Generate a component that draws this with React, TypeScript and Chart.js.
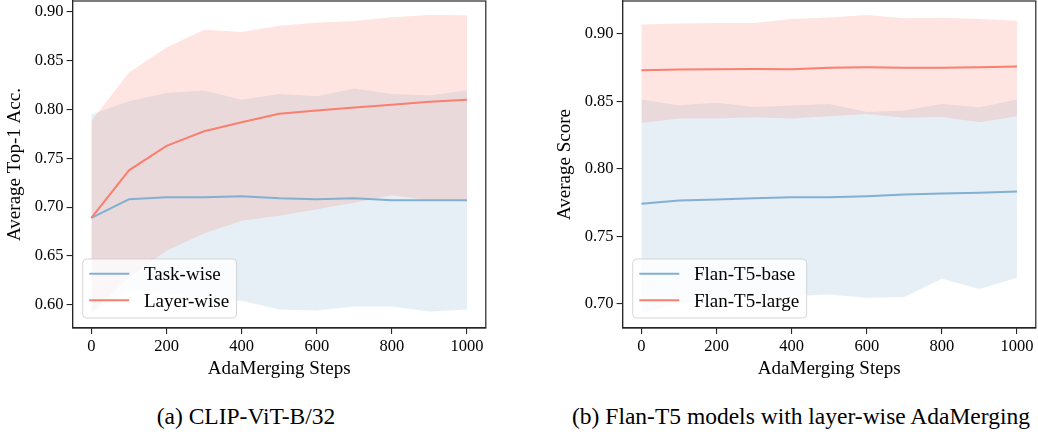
import React, { useEffect, useRef } from 'react';
import { Chart, registerables } from 'chart.js';
Chart.register(...registerables);

const FONT = "'Liberation Serif', 'Times New Roman', serif";
const BLUE = '#82B0D2';
const RED = '#FA7F6F';
const BLUE_FILL = 'rgba(130,176,210,0.2)';
const RED_FILL = 'rgba(250,127,111,0.2)';

// shared x values (AdaMerging steps)
const steps = [0, 100, 200, 300, 400, 500, 600, 700, 800, 900, 1000];
const xTicks = [0, 200, 400, 600, 800, 1000];

// (a) CLIP-ViT-B/32
const taskMean = [0.689, 0.708, 0.710, 0.710, 0.711, 0.709, 0.708, 0.709, 0.707, 0.707, 0.707];
const taskUpper = [0.795, 0.8085, 0.817, 0.8195, 0.810, 0.816, 0.8137, 0.8216, 0.816, 0.8144, 0.8198];
const taskLower = [0.590, 0.617, 0.611, 0.607, 0.604, 0.595, 0.594, 0.598, 0.598, 0.593, 0.595];
const layerMean = [0.689, 0.7377, 0.7627, 0.7777, 0.787, 0.7956, 0.799, 0.802, 0.805, 0.808, 0.810];
const layerUpper = [0.788, 0.838, 0.8637, 0.8818, 0.8794, 0.8859, 0.889, 0.8908, 0.8947, 0.897, 0.8966];
const layerLower = [0.592, 0.628, 0.6553, 0.673, 0.686, 0.691, 0.6977, 0.7044, 0.712, 0.707, 0.706];
const leftYTicks = [0.60, 0.65, 0.70, 0.75, 0.80, 0.85, 0.90];

// (b) Flan-T5 models with layer-wise AdaMerging
const baseMean = [0.7741, 0.7765, 0.7773, 0.7782, 0.779, 0.779, 0.7797, 0.781, 0.7817, 0.7822, 0.7832];
const baseUpper = [0.8513, 0.8471, 0.8489, 0.8459, 0.847, 0.8481, 0.8422, 0.8432, 0.8481, 0.8456, 0.8513];
const baseLower = [0.693, 0.700, 0.703, 0.705, 0.7057, 0.7069, 0.7044, 0.705, 0.7185, 0.711, 0.7193];
const largeMean = [0.8731, 0.8736, 0.8738, 0.874, 0.8738, 0.875, 0.8753, 0.875, 0.875, 0.8753, 0.8758];
const largeUpper = [0.9069, 0.9077, 0.908, 0.908, 0.911, 0.9122, 0.914, 0.9116, 0.9119, 0.911, 0.9098];
const largeLower = [0.834, 0.8373, 0.8373, 0.8382, 0.8373, 0.839, 0.8407, 0.8378, 0.8385, 0.8346, 0.839];
const rightYTicks = [0.70, 0.75, 0.80, 0.85, 0.90];

const pts = (ys: number[]) => steps.map((x, i) => ({ x, y: ys[i] }));

type Series = { label: string; mean: number[]; upper: number[]; lower: number[]; color: string; fill: string };

function buildDatasets(series: Series[]) {
  const ds: any[] = [];
  const n = series.length;
  series.forEach((s, k) => {
    // bands below all lines; later series above earlier ones
    const bandOrder = 100 + (n - k) * 2;
    ds.push({ data: pts(s.lower), borderWidth: 0, pointRadius: 0, fill: false, order: bandOrder + 1 });
    ds.push({ data: pts(s.upper), borderWidth: 0, pointRadius: 0, fill: '-1', backgroundColor: s.fill, order: bandOrder });
    ds.push({ label: s.label, data: pts(s.mean), borderColor: s.color, borderWidth: 2, pointRadius: 0, fill: false, order: n - k, tension: 0 });
  });
  return ds;
}

function makeConfig(series: Series[], yMin: number, yMax: number, yTicks: number[], yTitle: string): any {
  const legendPlugin = {
    id: 'boxLegend',
    afterDraw(chart: any) {
      const { ctx, chartArea } = chart;
      ctx.save();
      // spines
      ctx.strokeStyle = '#262626';
      ctx.lineWidth = 1.2;
      ctx.strokeRect(chartArea.left, chartArea.top, chartArea.right - chartArea.left, chartArea.bottom - chartArea.top);
      // legend
      ctx.font = `19px ${FONT}`;
      const maxW = Math.max(...series.map((s) => ctx.measureText(s.label).width));
      const w = 61.3 + maxW + 7.5;
      const h = 59;
      const left = chartArea.left + 10.1;
      const top = chartArea.bottom - 10 - h;
      ctx.beginPath();
      ctx.roundRect(left, top, w, h, 4);
      ctx.fillStyle = 'rgba(255,255,255,0.8)';
      ctx.fill();
      ctx.strokeStyle = 'rgba(204,204,204,0.8)';
      ctx.lineWidth = 1;
      ctx.stroke();
      const rows = [14.8, 41.2];
      series.forEach((s, i) => {
        const y = top + rows[i];
        ctx.beginPath();
        ctx.moveTo(left + 6.6, y);
        ctx.lineTo(left + 46.6, y);
        ctx.strokeStyle = s.color;
        ctx.lineWidth = 2;
        ctx.stroke();
        ctx.fillStyle = '#000';
        ctx.textBaseline = 'alphabetic';
        ctx.textAlign = 'left';
        ctx.fillText(s.label, left + 61.3, y + 6.5);
      });
      ctx.restore();
    },
  };
  return {
    type: 'line',
    data: { datasets: buildDatasets(series) },
    options: {
      responsive: false,
      animation: false,
      devicePixelRatio: 1,
      layout: { padding: { left: 0, right: 14.2, top: 1, bottom: 0 } },
      plugins: {
        legend: { display: false },
        tooltip: { enabled: false },
        filler: { drawTime: 'beforeDatasetDraw' },
      },
      elements: { line: { tension: 0 } },
      scales: {
        x: {
          type: 'linear',
          min: -50,
          max: 1050,
          afterBuildTicks: (s: any) => {
            s.ticks = xTicks.map((v) => ({ value: v }));
          },
          afterFit: (s: any) => {
            s.height = 62;
            s.paddingLeft = 0;
            s.paddingRight = 0;
          },
          ticks: {
            autoSkip: false,
            maxRotation: 0,
            padding: 3,
            color: '#000',
            font: { family: FONT, size: 16.5 },
            callback: (v: any) => String(v),
          },
          grid: { drawOnChartArea: false, drawTicks: true, tickLength: 6, color: '#262626', lineWidth: 1.1 },
          border: { display: true, color: '#262626', width: 1.2 },
          title: {
            display: true,
            text: 'AdaMerging Steps',
            color: '#000',
            font: { family: FONT, size: 19 },
            padding: { top: 0, bottom: 10 },
          },
        },
        y: {
          type: 'linear',
          min: yMin,
          max: yMax,
          afterBuildTicks: (s: any) => {
            s.ticks = yTicks.map((v) => ({ value: v }));
          },
          afterFit: (s: any) => {
            s.width = 72.6;
            s.paddingTop = 0;
            s.paddingBottom = 0;
          },
          ticks: {
            padding: 3,
            color: '#000',
            font: { family: FONT, size: 16.5 },
            callback: (v: any) => Number(v).toFixed(2),
          },
          grid: { drawOnChartArea: false, drawTicks: true, tickLength: 6, color: '#262626', lineWidth: 1.1 },
          border: { display: true, color: '#262626', width: 1.2 },
          title: {
            display: true,
            text: yTitle,
            color: '#000',
            font: { family: FONT, size: 19 },
            padding: { top: 4, bottom: 0 },
          },
        },
      },
    },
    plugins: [legendPlugin],
  };
}

function ChartCanvas({ config, left }: { config: () => any; left: number }) {
  const ref = useRef<HTMLCanvasElement | null>(null);
  useEffect(() => {
    if (!ref.current) return;
    const chart = new Chart(ref.current, config());
    return () => chart.destroy();
  }, []);
  return (
    <canvas
      ref={ref}
      width={500}
      height={390}
      style={{ position: 'absolute', left, top: 0, width: 500, height: 390 }}
    />
  );
}

const leftSeries: Series[] = [
  { label: 'Task-wise', mean: taskMean, upper: taskUpper, lower: taskLower, color: BLUE, fill: BLUE_FILL },
  { label: 'Layer-wise', mean: layerMean, upper: layerUpper, lower: layerLower, color: RED, fill: RED_FILL },
];
const rightSeries: Series[] = [
  { label: 'Flan-T5-base', mean: baseMean, upper: baseUpper, lower: baseLower, color: BLUE, fill: BLUE_FILL },
  { label: 'Flan-T5-large', mean: largeMean, upper: largeUpper, lower: largeLower, color: RED, fill: RED_FILL },
];

export default function App() {
  const captionStyle: React.CSSProperties = {
    position: 'absolute',
    top: 404.6,
    width: 500,
    textAlign: 'center',
    fontFamily: FONT,
    fontSize: 23.5,
    lineHeight: 1,
    whiteSpace: 'nowrap',
    color: '#000',
  };
  return (
    <div style={{ position: 'absolute', left: 0, top: 0, width: 1038, height: 434, background: '#fff', overflow: 'hidden' }}>
      <ChartCanvas left={0} config={() => makeConfig(leftSeries, 0.576, 0.9113, leftYTicks, 'Average Top-1 Acc.')} />
      <ChartCanvas left={550.2} config={() => makeConfig(rightSeries, 0.682, 0.9244, rightYTicks, 'Average Score')} />
      <div style={{ ...captionStyle, left: 246 - 250 }}>(a) CLIP-ViT-B/32</div>
      <div style={{ ...captionStyle, left: 801 - 250 }}>(b) Flan-T5 models with layer-wise AdaMerging</div>
    </div>
  );
}
